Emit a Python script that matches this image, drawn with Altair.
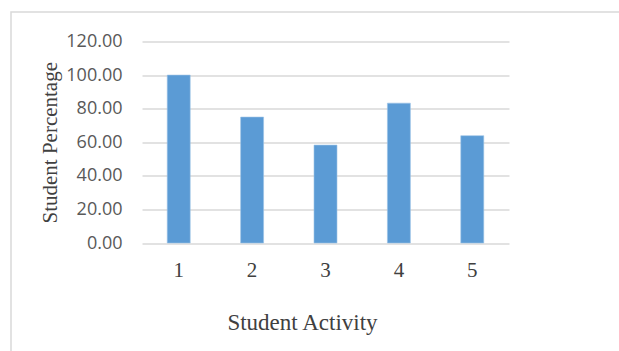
import altair as alt
import pandas as pd

activities = ["1", "2", "3", "4", "5"]
percentages = [100.0, 75.0, 58.3, 83.3, 63.9]
y_ticks = [0, 20, 40, 60, 80, 100, 120]

df = pd.DataFrame({"activity": activities, "pct": percentages})

W, H = 367, 201.5
L, T = 142, 41.5

bars = alt.Chart(df).mark_bar(color="#5b9bd5", stroke="#9cc3e6", strokeWidth=0.6).encode(
    x=alt.X(
        "activity:N",
        sort=activities,
        scale=alt.Scale(paddingInner=0.687, paddingOuter=0.344),
        axis=alt.Axis(
            title="Student Activity",
            titleFont="Liberation Serif",
            titleFontSize=23,
            titleFontWeight="normal",
            titleColor="#404040",
            titleX=160,
            titleY=86,
            titleAlign="center",
            titleBaseline="alphabetic",
            labelFont="Liberation Serif",
            labelFontSize=21,
            labelColor="#404040",
            labelAngle=0,
            labelPadding=16,
            domain=False,
            ticks=False,
            grid=False,
        ),
    ),
    y=alt.Y(
        "pct:Q",
        scale=alt.Scale(domain=[0, 120], nice=False),
        axis=alt.Axis(
            values=y_ticks,
            format=".2f",
            title="Student Percentage",
            titleFont="Liberation Serif",
            titleFontSize=21,
            titleFontWeight="normal",
            titleColor="#404040",
            titlePadding=5,
            labelFont="Open Sans",
            labelFontSize=18,
            labelColor="#595959",
            labelPadding=20,
            domain=False,
            ticks=False,
            grid=True,
            gridColor="#d9d9d9",
            gridWidth=1.6,
        ),
    ),
)

frame = alt.Chart(pd.DataFrame({"f": [0]})).mark_rect(
    fill="transparent", stroke="#d9d9d9", strokeWidth=1.5
).encode(
    x=alt.value(11 - L),
    x2=alt.value(640 - L),
    y=alt.value(12 - T),
    y2=alt.value(370 - T),
)

chart = alt.layer(frame, bars).properties(
    width=W,
    height=H,
    autosize=alt.AutoSizeParams(type="none"),
    padding={"left": L, "top": T, "right": 619 - L - W, "bottom": 351 - T - H},
).configure(background="white").configure_view(stroke="transparent", strokeWidth=0)

chart.save("out.html", embed_options={"renderer": "svg", "actions": False})
